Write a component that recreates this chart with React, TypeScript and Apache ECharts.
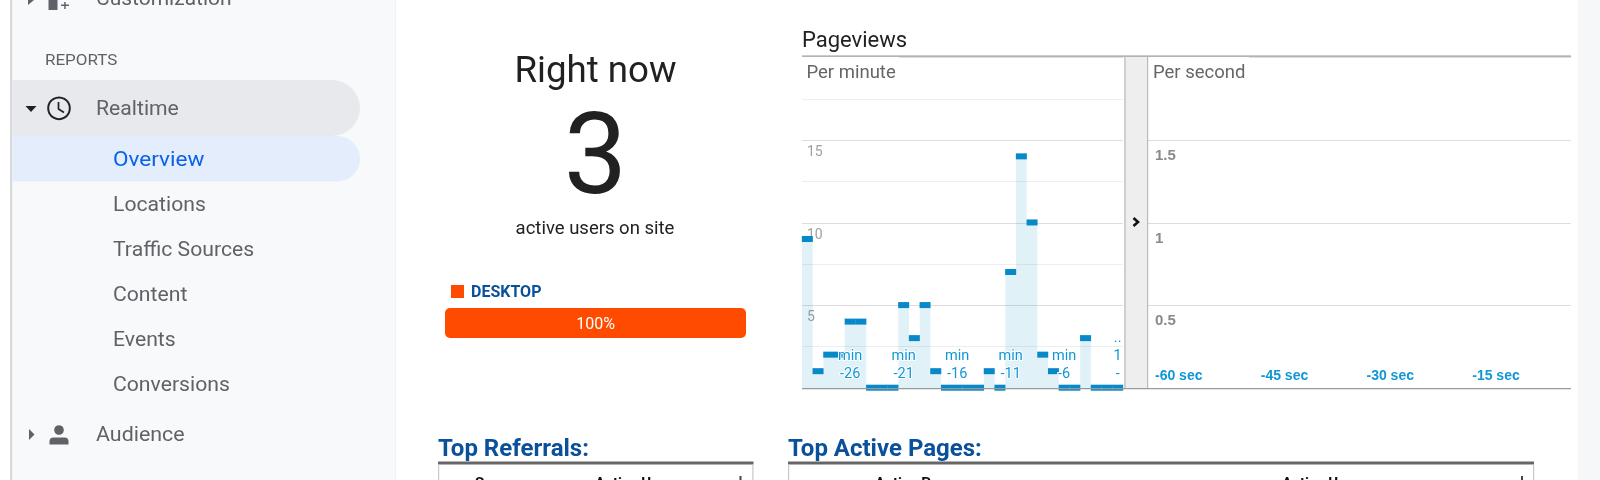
import React, { useEffect, useRef } from "react";
import * as echarts from "echarts";

const minuteCategories = [
  "-30", "-29", "-28", "-27", "min\n-26", "-25", "-24", "-23", "-22", "min\n-21",
  "-20", "-19", "-18", "-17", "min\n-16", "-15", "-14", "-13", "-12", "min\n-11",
  "-10", "-9", "-8", "-7", "min\n-6", "-5", "-4", "-3", "-2", "..\n1\n-",
];
const perMinuteValues = [9, 1, 2, 2, 4, 4, 0, 0, 0, 5, 3, 5, 1, 0, 0, 0, 0, 1, 0, 7, 14, 10, 2, 1, 0, 0, 3, 0, 0, 0];
const perSecondValues: number[] = [];
const minuteTickLabels = [5, 10, 15];
const secondTickLabels = [0.5, 1, 1.5];
const secondAxisLabels = [-60, -45, -30, -15];
const deviceName = "DESKTOP";
const deviceShare = [100];
const sidebarItems = ["Locations", "Traffic Sources", "Content", "Events", "Conversions"];

const FONT = "Roboto";
const BLUE = "#0f97d6";
const NAVY = "#0a509a";

function txt(x: number, y: number, text: string, fontSize: number, fill: string, extra: any = {}, elem: any = {}) {
  return {
    type: "text", x, y, silent: true, z: 20, ...elem,
    style: { text, fontSize, fill, fontFamily: FONT, verticalAlign: "middle", align: "left", ...extra },
  };
}
function rect(x: number, y: number, width: number, height: number, fill: string, z = 1, r: any = 0) {
  return { type: "rect", silent: true, z, shape: { x, y, width, height, r }, style: { fill } };
}
function tri(points: number[][], fill: string) {
  return { type: "polygon", silent: true, z: 20, shape: { points }, style: { fill } };
}

export default function App() {
  const ref = useRef<HTMLDivElement>(null);
  useEffect(() => {
    document.body.style.margin = "0";
    document.body.style.overflow = "hidden";
    const chart = echarts.init(ref.current!, undefined, { renderer: "svg" });
    const sidebarGrey = "#5f6368";
    const wide = { scaleX: 1.06 };
    const graphic: any[] = [
      // page frames
      rect(0, 0, 1600, 480, "#ffffff", -10),
      rect(10, 0, 2.5, 480, "#d8d9db", 0),
      rect(12.5, 0, 382, 480, "#f8f9fb", 0),
      rect(394.5, 0, 1.5, 480, "#f0f1f3", 0),
      rect(1578, 0, 22, 480, "#f6f7f9", 0),
      rect(12.5, 80, 347.5, 56, "#e8e9ed", 1, [0, 28, 28, 0]),
      rect(12.5, 136, 347.5, 45.5, "#e3edfc", 1, [0, 23, 23, 0]),
      // sidebar text
      txt(96, -2, "Customization", 20, sidebarGrey, {}, { scaleX: 1.05 }),
      txt(45, 59.5, "REPORTS", 14.5, sidebarGrey, {}, { scaleX: 1.17 }),
      txt(96, 108, "Realtime", 20, sidebarGrey, {}, wide),
      txt(113, 158.5, "Overview", 20.5, "#0b62e8", {}, { scaleX: 1.1 }),
      ...sidebarItems.map((s, i) => txt(113, 204.3 + i * 45, s, 20, sidebarGrey, {}, wide)),
      txt(96, 434.5, "Audience", 20, sidebarGrey, {}, { scaleX: 1.07 }),
      // sidebar icons
      tri([[28, 0], [34, 0], [28, 5]], "#5f6368"),
      rect(48.5, 0, 9, 10, "#5f6368", 20),
      rect(61, 4.5, 8, 1.5, "#5f6368", 20),
      rect(64.2, 2, 1.5, 7, "#5f6368", 20),
      tri([[25.5, 106], [36.5, 106], [31, 112]], "#202124"),
      { type: "circle", silent: true, z: 20, shape: { cx: 59, cy: 108.3, r: 10.8 }, style: { fill: "none", stroke: "#202124", lineWidth: 2 } },
      { type: "polyline", silent: true, z: 20, shape: { points: [[58.5, 102], [58.5, 109], [64, 112.5]] }, style: { fill: "none", stroke: "#202124", lineWidth: 1.7 } },
      tri([[29, 429], [34.5, 434.5], [29, 440]], "#5f6368"),
      { type: "circle", silent: true, z: 20, shape: { cx: 59, cy: 430, r: 4.8 }, style: { fill: "#5f6368" } },
      rect(49.5, 437.5, 19, 7, "#5f6368", 20, [4, 4, 0, 0]),
      // right now block
      txt(595.5, 69, "Right now", 36.7, "#212121", { align: "center" }),
      txt(595.5, 154, "3", 113, "#212121", { align: "center" }),
      txt(595, 227.5, "active users on site", 18.5, "#212121", { align: "center" }),
      // chart frame
      txt(802, 39, "Pageviews", 22, "#222222"),
      rect(802, 55.5, 769, 1.3, "#9a9a9a", 15),
      rect(802, 56.8, 97, 2, "#ffffff", 5),
      rect(1148, 56.8, 101, 2, "#ffffff", 5),
      txt(806.5, 71.5, "Per minute", 18.5, "#666666"),
      txt(1153, 71.5, "Per second", 18.5, "#666666"),
      rect(1124, 57, 2, 331, "#cfcfcf", 15),
      rect(1126, 57, 21, 331, "#eeeeee", 15),
      rect(1147, 57, 1.2, 331, "#bbbbbb", 15),
      { type: "polyline", silent: true, z: 20, shape: { points: [[1133.5, 218], [1138, 222], [1133.5, 226]] }, style: { fill: "none", stroke: "#111111", lineWidth: 2.6 } },
      rect(802, 388, 769, 1.3, "#9a9a9a", 15),
      // tables
      txt(438, 448, "Top Referrals:", 24, NAVY, { fontWeight: "bold" }),
      rect(438, 461.5, 315.5, 3, "#666666", 15),
      rect(438, 464.5, 1.2, 16, "#c8c8c8", 15),
      rect(752.3, 464.5, 1.2, 16, "#c8c8c8", 15),
      txt(475, 483, "Source", 15, "#111111", { fontWeight: "bold" }),
      txt(595, 483, "Active Users", 15, "#111111", { fontWeight: "bold" }),
      rect(739.5, 476, 2, 5, "#444444", 15),
      txt(788, 448, "Top Active Pages:", 24, NAVY, { fontWeight: "bold" }),
      rect(788, 461.5, 746, 3, "#666666", 15),
      rect(788, 464.5, 1.2, 16, "#c8c8c8", 15),
      rect(1533, 464.5, 1.2, 16, "#c8c8c8", 15),
      txt(875, 483, "Active Pages", 15, "#111111", { fontWeight: "bold" }),
      txt(1282, 483, "Active Users", 15, "#111111", { fontWeight: "bold" }),
      rect(1521, 476, 2, 5, "#444444", 15),
    ];

    chart.setOption({
      animation: false,
      backgroundColor: "transparent",
      textStyle: { fontFamily: FONT },
      graphic,
      legend: {
        data: [deviceName], left: 451, top: 283.5, padding: 0, itemWidth: 13, itemHeight: 13, icon: "rect", itemGap: 7,
        selectedMode: false,
        textStyle: { color: NAVY, fontWeight: "bold", fontSize: 16, fontFamily: FONT, padding: [0, 0, 0, 2] },
      },
      grid: [
        { left: 802, top: 57.5, width: 321, height: 330.5 },
        { left: 1148, top: 57.5, width: 423, height: 330.5 },
        { left: 445, top: 308, width: 301, height: 30 },
      ],
      xAxis: [
        {
          gridIndex: 0, type: "category", data: minuteCategories, z: 6,
          axisLine: { show: false }, axisTick: { show: false }, splitLine: { show: false },
          axisLabel: {
            inside: true, interval: (i: number) => i % 5 === 4, margin: 6, color: BLUE, fontSize: 14.5, fontFamily: FONT,
            lineHeight: 18, verticalAlign: "bottom", textBorderColor: "#ffffff", textBorderWidth: 2,
          },
        },
        {
          gridIndex: 1, type: "value", min: -60, max: 0, interval: 15, z: 6,
          axisLine: { show: false }, axisTick: { show: false }, splitLine: { show: false },
          axisLabel: {
            inside: true, margin: 6, color: BLUE, fontSize: 14, fontWeight: "bold", fontFamily: "Liberation Sans",
            align: "left", padding: [0, 0, 0, 7], verticalAlign: "bottom",
            formatter: (v: number) => (secondAxisLabels.includes(v) ? `${v} sec` : ""),
            showMaxLabel: false,
          },
        },
        { gridIndex: 2, type: "value", min: 0, max: 100, show: false },
      ],
      yAxis: [
        {
          gridIndex: 0, type: "value", min: 0, max: 20, interval: 5, z: 1,
          axisLine: { show: false }, axisTick: { show: false },
          splitLine: { lineStyle: { color: "#dddddd", width: 1.2 } },
          minorTick: { show: false, splitNumber: 2 },
          minorSplitLine: { show: true, lineStyle: { color: "#eeeeee", width: 1 } },
          axisLabel: {
            inside: true, margin: 5, color: "#a0a0a0", fontSize: 14, fontFamily: FONT, verticalAlign: "top",
            padding: [4, 0, 0, 0], textBorderColor: "#ffffff", textBorderWidth: 1.5,
            formatter: (v: number) => (minuteTickLabels.includes(v) ? String(v) : ""),
          },
        },
        {
          gridIndex: 1, type: "value", min: 0, max: 2, interval: 0.5, z: 1,
          axisLine: { show: false }, axisTick: { show: false },
          splitLine: { lineStyle: { color: "#dddddd", width: 1.2 } },
          axisLabel: {
            inside: true, margin: 7, color: "#8a8a8a", fontSize: 15, fontWeight: "bold", fontFamily: "Liberation Sans", verticalAlign: "top",
            padding: [7, 0, 0, 0],
            formatter: (v: number) => (secondTickLabels.includes(v) ? String(v) : ""),
          },
        },
        { gridIndex: 2, type: "category", data: [deviceName], show: false },
      ],
      series: [
        {
          type: "bar", name: "Per minute area", xAxisIndex: 0, yAxisIndex: 0, data: perMinuteValues,
          barCategoryGap: "0%", itemStyle: { color: "rgba(5,141,199,0.125)" }, z: 2,
        },
        {
          type: "scatter", name: "Per minute", xAxisIndex: 0, yAxisIndex: 0, data: perMinuteValues,
          symbol: "rect", symbolSize: [11, 6], symbolOffset: [0, -0.3], clip: true, itemStyle: { color: "#0688c9", opacity: 1 }, z: 3,
        },
        {
          type: "bar", name: "Per second", xAxisIndex: 1, yAxisIndex: 1, data: perSecondValues,
          itemStyle: { color: "rgba(5,141,199,0.125)" },
        },
        {
          type: "bar", name: deviceName, xAxisIndex: 2, yAxisIndex: 2, data: deviceShare, barWidth: "100%",
          itemStyle: { color: "#ff4b00", borderRadius: 5 },
          label: { show: true, position: "inside", formatter: "{c}%", color: "#ffffff", fontSize: 16, fontFamily: FONT },
        },
      ],
    });
    return () => chart.dispose();
  }, []);
  return <div ref={ref} style={{ position: "fixed", left: 0, top: 0, width: 1600, height: 480 }} />;
}
